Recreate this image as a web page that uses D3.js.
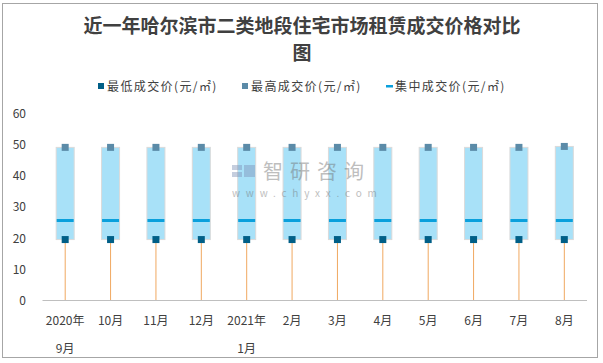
<!DOCTYPE html>
<html lang="zh">
<head>
<meta charset="utf-8">
<title>近一年哈尔滨市二类地段住宅市场租赁成交价格对比图</title>
<script src="https://d3js.org/d3.v7.min.js"></script>
<style>
    body { margin: 0; background: #fff; }
    svg text { font-family: "Noto Sans CJK SC", "DejaVu Sans", sans-serif; }
</style>
</head>
<body>
<div id="chart"></div>
<script>
    // data
    var months = ["2020年|9月", "10月", "11月", "12月", "2021年|1月", "2月", "3月", "4月", "5月", "6月", "7月", "8月"];
    var lowPrice = [19.5, 19.5, 19.5, 19.5, 19.5, 19.5, 19.5, 19.5, 19.5, 19.5, 19.5, 19.5];
    var highPrice = [49, 49, 49, 49, 49, 49, 49, 49, 49, 49, 49, 49.3];
    var midPrice = [25.6, 25.6, 25.6, 25.6, 25.6, 25.6, 25.6, 25.6, 25.6, 25.6, 25.6, 25.6];
    var yTicks = [0, 10, 20, 30, 40, 50, 60];
    var legendNames = ["最低成交价(元/㎡)", "最高成交价(元/㎡)", "集中成交价(元/㎡)"];

    var WIDTH = 603, HEIGHT = 363;
    var LOW_COLOR = "#005f87", HIGH_COLOR = "#5b8ba8", MID_COLOR = "#0aa0dc";

    var svg = d3.select("#chart").append("svg")
        .attr("width", WIDTH)
        .attr("height", HEIGHT);

    // outer frame
    svg.append("rect")
        .attr("x", 2.5).attr("y", 3.5)
        .attr("width", 595).attr("height", 354)
        .attr("fill", "#fff")
        .attr("stroke", "#a6a6a6");

    // title
    var title = svg.append("text")
        .attr("text-anchor", "middle")
        .attr("font-size", 19)
        .attr("font-weight", "bold")
        .attr("fill", "#404040");
    title.append("tspan").attr("x", 302).attr("y", 33).text("近一年哈尔滨市二类地段住宅市场租赁成交价格对比");
    title.append("tspan").attr("x", 302).attr("y", 60).text("图");

    // legend
    var legend = svg.append("g").attr("font-size", 12).attr("fill", "#404040");
    var legX = [98, 242, 386];
    legend.append("rect").attr("x", legX[0]).attr("y", 83).attr("width", 6).attr("height", 6).attr("fill", LOW_COLOR);
    legend.append("rect").attr("x", legX[1]).attr("y", 83).attr("width", 6).attr("height", 6).attr("fill", HIGH_COLOR);
    legend.append("rect").attr("x", legX[2]).attr("y", 85).attr("width", 7).attr("height", 2.5).attr("fill", MID_COLOR);
    legendNames.forEach(function (d, i) {
        legend.append("text")
            .attr("x", legX[i] + 9)
            .attr("y", 90.5)
            .attr("letter-spacing", 1.4)
            .attr("fill", "#404040")
            .text(d);
    });

    // scales
    var x = d3.scaleBand()
        .domain(months)
        .range([42.5, 587]);
    var y = d3.scaleLinear()
        .domain([0, 60])
        .range([300.5, 113]);

    // y tick labels
    svg.append("g").selectAll("text")
        .data(yTicks)
        .enter().append("text")
        .attr("x", 26)
        .attr("y", function (d) { return y(d) + 4.5; })
        .attr("text-anchor", "end")
        .attr("font-size", 12)
        .attr("fill", "#404040")
        .text(function (d) { return d; });

    var idx = d3.range(months.length);
    var cx = function (i) { return x(months[i]) + x.bandwidth() / 2; };

    // orange drop lines from low price down to the axis
    svg.append("g").selectAll("line")
        .data(idx)
        .enter().append("line")
        .attr("x1", function (i) { return cx(i); })
        .attr("x2", function (i) { return cx(i); })
        .attr("y1", function (i) { return y(lowPrice[i]); })
        .attr("y2", y(0))
        .attr("stroke", "#f0a860")
        .attr("stroke-width", 1);

    // x axis line
    svg.append("line")
        .attr("x1", 42.5).attr("x2", 587)
        .attr("y1", y(0)).attr("y2", y(0))
        .attr("stroke", "#bfbfbf");

    // boxes low -> high
    var BOX_W = 18;
    svg.append("g").selectAll("rect")
        .data(idx)
        .enter().append("rect")
        .attr("x", function (i) { return cx(i) - BOX_W / 2; })
        .attr("y", function (i) { return y(highPrice[i]); })
        .attr("width", BOX_W)
        .attr("height", function (i) { return y(lowPrice[i]) - y(highPrice[i]); })
        .attr("fill", "#a8e1f8")
        .attr("stroke", "#dadada")
        .attr("stroke-width", 1);

    // median line
    svg.append("g").selectAll("line")
        .data(idx)
        .enter().append("line")
        .attr("x1", function (i) { return cx(i) - BOX_W / 2 + 0.5; })
        .attr("x2", function (i) { return cx(i) + BOX_W / 2 - 0.5; })
        .attr("y1", function (i) { return y(midPrice[i]); })
        .attr("y2", function (i) { return y(midPrice[i]); })
        .attr("stroke", MID_COLOR)
        .attr("stroke-width", 3);

    // high markers
    svg.append("g").selectAll("rect")
        .data(idx)
        .enter().append("rect")
        .attr("x", function (i) { return cx(i) - 3.5; })
        .attr("y", function (i) { return y(highPrice[i]) - 3.5; })
        .attr("width", 7).attr("height", 7)
        .attr("fill", HIGH_COLOR);

    // low markers
    svg.append("g").selectAll("rect")
        .data(idx)
        .enter().append("rect")
        .attr("x", function (i) { return cx(i) - 3.5; })
        .attr("y", function (i) { return y(lowPrice[i]) - 3.5; })
        .attr("width", 7).attr("height", 7)
        .attr("fill", LOW_COLOR);

    // category labels, two lines where needed
    var cat = svg.append("g").selectAll("text")
        .data(idx)
        .enter().append("text")
        .attr("text-anchor", "middle")
        .attr("font-size", 12)
        .attr("fill", "#404040");
    cat.each(function (i) {
        var parts = months[i].split("|");
        var t = d3.select(this);
        parts.forEach(function (p, k) {
            t.append("tspan")
                .attr("x", cx(i))
                .attr("y", 325 + k * 28)
                .text(p);
        });
    });

    // watermark on top, semi-transparent
    var wm = svg.append("g").attr("opacity", 0.45);
    wm.append("rect").attr("x", 232).attr("y", 165).attr("width", 10).attr("height", 5).attr("fill", "#7f93b8");
    wm.append("rect").attr("x", 232).attr("y", 172).attr("width", 10).attr("height", 5).attr("fill", "#7f93b8");
    wm.append("rect").attr("x", 244).attr("y", 165).attr("width", 11).attr("height", 12).attr("fill", "#7f93b8");
    wm.append("text").attr("x", 263).attr("y", 179).attr("font-size", 20)
        .attr("letter-spacing", 7).attr("fill", "#707070").text("智研咨询");
    wm.append("text").attr("x", 232).attr("y", 197).attr("font-size", 10)
        .attr("letter-spacing", 5.8).attr("fill", "#707070").text("www.chyxx.com");
</script>
</body>
</html>
